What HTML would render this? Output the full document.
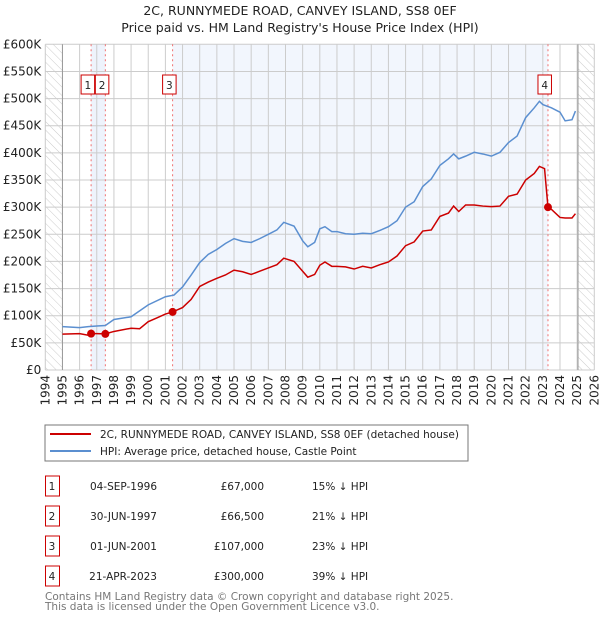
<!DOCTYPE html>
<html><head><meta charset="utf-8">
<style>
body{margin:0;background:#fff;font-family:"DejaVu Sans","Liberation Sans",sans-serif;}
svg text{font-family:"DejaVu Sans","Liberation Sans",sans-serif;}
</style></head>
<body>
<svg id="c" width="600" height="620" viewBox="0 0 600 620" xmlns="http://www.w3.org/2000/svg">
<defs><pattern id="hatch" width="6" height="6" patternUnits="userSpaceOnUse" patternTransform="rotate(-45)"><line x1="0" y1="0" x2="0" y2="6" stroke="#ccc" stroke-width="1"/></pattern></defs>
<text x="300" y="15" text-anchor="middle" font-size="12.5" fill="#222">2C, RUNNYMEDE ROAD, CANVEY ISLAND, SS8 0EF</text>
<text x="300" y="32" text-anchor="middle" font-size="12.5" fill="#222">Price paid vs. HM Land Registry's House Price Index (HPI)</text>
<g id="plot"></g>
<rect x="45" y="425" width="423" height="36" fill="#fff" stroke="#777"/>
<line x1="50" y1="434" x2="91" y2="434" stroke="#cc0000" stroke-width="2"/>
<text x="100" y="438" font-size="10.5" fill="#222">2C, RUNNYMEDE ROAD, CANVEY ISLAND, SS8 0EF (detached house)</text>
<line x1="50" y1="451" x2="91" y2="451" stroke="#5b8fd0" stroke-width="2"/>
<text x="100" y="455" font-size="10.5" fill="#222">HPI: Average price, detached house, Castle Point</text>
<g id="table" font-size="10.5" fill="#222"></g>
<text x="45" y="600" font-size="10.5" fill="#777">Contains HM Land Registry data © Crown copyright and database right 2025.</text>
<text x="45" y="610" font-size="10.5" fill="#777">This data is licensed under the Open Government Licence v3.0.</text>
</svg>
<script>
const hpiYears=[1995,1996,1996.5,1997,1997.5,1998,1999,2000,2001,2001.5,2002,2002.5,2003,2003.5,2004,2004.5,2005,2005.5,2006,2006.5,2007,2007.5,2007.9,2008.5,2009,2009.3,2009.7,2010,2010.3,2010.7,2011,2011.5,2012,2012.5,2013,2013.5,2014,2014.5,2015,2015.5,2016,2016.5,2017,2017.5,2017.8,2018.1,2018.5,2019,2019.5,2020,2020.5,2021,2021.5,2022,2022.5,2022.8,2023,2023.5,2024,2024.3,2024.7,2024.9];
const hpiValues=[80,78,80,81,82,93,98,120,135,138,153,175,198,213,222,233,242,237,235,242,250,258,272,265,238,227,235,260,264,255,255,251,250,252,251,257,264,275,300,310,338,352,377,389,398,389,394,401,398,394,401,419,431,465,483,495,489,483,475,459,461,477];
const redYears=[1995,1996,1996.5,1996.67,1997,1997.5,1998,1999,1999.5,2000,2000.5,2001,2001.42,2002,2002.5,2003,2003.5,2004,2004.5,2005,2005.5,2006,2006.5,2007,2007.5,2007.9,2008.5,2009,2009.3,2009.7,2010,2010.3,2010.7,2011,2011.5,2012,2012.5,2013,2013.5,2014,2014.5,2015,2015.5,2016,2016.5,2017,2017.5,2017.8,2018.1,2018.5,2019,2019.5,2020,2020.5,2021,2021.5,2022,2022.5,2022.8,2023.1,2023.3,2023.5,2024,2024.3,2024.7,2024.9];
const redValues=[66,67,64,67,67,66.5,71,77,76,89,96,103,107,115,130,154,162,169,175,184,181,176,182,188,194,206,200,182,171,176,193,199,191,191,190,186,191,188,194,199,210,229,236,256,258,283,289,302,292,304,304,302,301,302,320,324,350,362,375,371,300,296,281,280,280,288];
const saleLabels=["1","2","3","4"];
const saleYears=[1996.67,1997.5,2001.42,2023.3];
const saleValues=[67,66.5,107,300];
const saleDates=["04-SEP-1996","30-JUN-1997","01-JUN-2001","21-APR-2023"];
const salePrices=["£67,000","£66,500","£107,000","£300,000"];
const saleHpi=["15% ↓ HPI","21% ↓ HPI","23% ↓ HPI","39% ↓ HPI"];
const yTicks=[0,50,100,150,200,250,300,350,400,450,500,550,600];
const yTickLabels=["£0","£50K","£100K","£150K","£200K","£250K","£300K","£350K","£400K","£450K","£500K","£550K","£600K"];
const xTicks=[1994,1995,1996,1997,1998,1999,2000,2001,2002,2003,2004,2005,2006,2007,2008,2009,2010,2011,2012,2013,2014,2015,2016,2017,2018,2019,2020,2021,2022,2023,2024,2025,2026];

const NS="http://www.w3.org/2000/svg";
const X0=45.3,X1=594.3,Y0=370,Y1=44.3;
const xs=y=>X0+(y-1994)/(2026-1994)*(X1-X0);
const ys=v=>Y0-v/600*(Y0-Y1);
const plot=document.getElementById('plot');
function mk(tag,attrs,parent){const e=document.createElementNS(NS,tag);for(const k in attrs)e.setAttribute(k,attrs[k]);(parent||plot).appendChild(e);return e;}

let r;
r=mk('rect',{x:X0,y:Y1,width:X1-X0,height:Y0-Y1,fill:'#fff'});


r=mk('rect',{x:xs(saleYears[0]),y:Y1,width:xs(saleYears[1])-xs(saleYears[0]),height:Y0-Y1,fill:'#eef3fc'});


r=mk('rect',{x:xs(saleYears[2]),y:Y1,width:xs(saleYears[3])-xs(saleYears[2]),height:Y0-Y1,fill:'#f2f6fd'});


r=mk('rect',{x:X0,y:Y1,width:xs(1995)-X0,height:Y0-Y1,fill:'url(#hatch)'});


r=mk('rect',{x:xs(2025.05),y:Y1,width:X1-xs(2025.05),height:Y0-Y1,fill:'url(#hatch)'});



yTicks.forEach((v,i)=>{
  const l=mk('line',{x1:X0,x2:X1,y1:ys(v),y2:ys(v),stroke:'#ccc','stroke-width':1});
  
  
  const t=mk('text',{x:X0-4,y:ys(v)+4,'text-anchor':'end','font-size':'12',fill:'#222'});
  t.textContent=yTickLabels[i];
  
  
});
xTicks.forEach(y=>{
  const l=mk('line',{x1:xs(y),x2:xs(y),y1:Y1,y2:Y0,stroke:'#ccc','stroke-width':1});
  
  
  const t=mk('text',{x:0,y:0,'text-anchor':'end','font-size':'12',fill:'#222',transform:`translate(${xs(y)+4},${Y0+5}) rotate(-90)`});
  t.textContent=y;
  
  
});
r=mk('line',{x1:xs(1995),x2:xs(1995),y1:Y1,y2:Y0,stroke:'#999'});


r=mk('line',{x1:xs(2025.05),x2:xs(2025.05),y1:Y1,y2:Y0,stroke:'#999'});



saleYears.forEach((y,i)=>{
  const l=mk('line',{x1:xs(y),x2:xs(y),y1:Y1,y2:Y0,stroke:'#f07070','stroke-dasharray':'2,3','stroke-width':1});
  
  
});

const hp=mk('polyline',{points:hpiYears.map((y,i)=>xs(y)+','+ys(hpiValues[i])).join(' '),fill:'none',stroke:'#5b8fd0','stroke-width':1.5});


const rp=mk('polyline',{points:redYears.map((y,i)=>xs(y)+','+ys(redValues[i])).join(' '),fill:'none',stroke:'#cc0000','stroke-width':1.5});



saleYears.forEach((y,i)=>{
  const d=mk('circle',{cx:xs(y),cy:ys(saleValues[i]),r:4,fill:'#cc0000'});
  
  
  const bx=xs(y)-10;
  const b=mk('rect',{x:bx,y:75,width:13.5,height:19,fill:'#fff',stroke:'#cc0000'});
  
  
  const t=mk('text',{x:bx+6.75,y:89,'text-anchor':'middle','font-size':'10.5',fill:'#222'});
  t.textContent=saleLabels[i];
  
  
});

const tb=document.getElementById('table');
saleLabels.forEach((s,i)=>{
  const cy=483+i*30;
  const b=mk('rect',{x:45.5,y:cy-7,width:14,height:20,fill:'#fff',stroke:'#cc0000'},tb);
  
  
  const cells=[[52,s,'middle','table-number'],[157,saleDates[i],'end','table-date'],[264,salePrices[i],'end','table-price'],[312,saleHpi[i],'start','table-hpi-diff']];
  cells.forEach(c=>{
    const t=mk('text',{x:c[0],y:cy+7,'text-anchor':c[2],'font-size':'10.5',fill:'#222'},tb);
    t.textContent=c[1];
    
    
  });
});
</script>
</body></html>
